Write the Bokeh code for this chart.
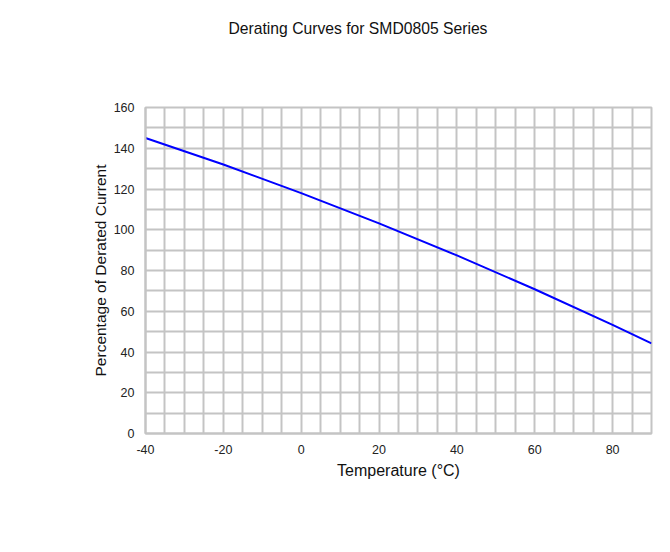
from bokeh.plotting import figure
from bokeh.embed import file_html
from bokeh.resources import INLINE
from bokeh.models import Range1d, FixedTicker, SingleIntervalTicker, Title

temps = [-40, -20, 0, 20, 40, 60, 80, 90]
derating = [145, 132, 118, 103.1, 87.4, 70.8, 53.3, 44.2]
x_ticks = [-40, -20, 0, 20, 40, 60, 80]
x_tick_labels = ["-40", "-20", "0", "20", "40", "60", "80"]
y_ticks = [0, 20, 40, 60, 80, 100, 120, 140, 160]

title_text = "Derating Curves for SMD0805 Series"
x_label = "Temperature (°C)"
y_label = "Percentage of Derated Current"

FONT = "Liberation Sans"
GRID = "#c4c4c4"

p = figure(width=662, height=544, output_backend="svg", toolbar_location=None,
           x_range=Range1d(-40, 90), y_range=Range1d(0, 160),
           min_border_left=145, min_border_right=11, min_border_top=107,
           min_border_bottom=111, title=title_text)

p.title.text_font = FONT
p.title.text_font_size = "15.7px"
p.title.text_font_style = "normal"
p.title.text_color = "#111111"
p.title.align = "left"
p.title.offset = 83
p.title.standoff = 35

spacer = Title(text=" ", text_font=FONT, text_font_size="16px", standoff=34)
p.add_layout(spacer, "above")

p.background_fill_color = "white"
p.border_fill_color = "white"
p.outline_line_color = GRID
p.outline_line_width = 2

p.xaxis.ticker = FixedTicker(ticks=x_ticks)
p.xaxis.major_label_overrides = dict(zip(x_ticks, x_tick_labels))
p.yaxis.ticker = FixedTicker(ticks=y_ticks)
p.xgrid.ticker = SingleIntervalTicker(interval=5)
p.ygrid.ticker = SingleIntervalTicker(interval=10)
p.grid.grid_line_color = GRID
p.grid.grid_line_width = 2

for ax in (p.xaxis, p.yaxis):
    ax.axis_line_color = GRID
    ax.axis_line_width = 2
    ax.major_tick_line_color = None
    ax.minor_tick_line_color = None
    ax.major_label_text_font = FONT
    ax.major_label_text_font_size = "12.5px"
    ax.major_label_text_color = "#222222"
    ax.major_label_standoff = 5
    ax.axis_label_text_font = FONT
    ax.axis_label_text_font_style = "normal"
    ax.axis_label_text_color = "#111111"

p.xaxis.axis_label = x_label
p.yaxis.axis_label = y_label
p.xaxis.axis_label_text_font_size = "16px"
p.yaxis.axis_label_text_font_size = "15.5px"
p.xaxis.axis_label_standoff = 5
p.yaxis.axis_label_standoff = 2

p.line(temps, derating, line_color="#0000ff", line_width=2)

open("out.html", "w").write(file_html(p, INLINE))
